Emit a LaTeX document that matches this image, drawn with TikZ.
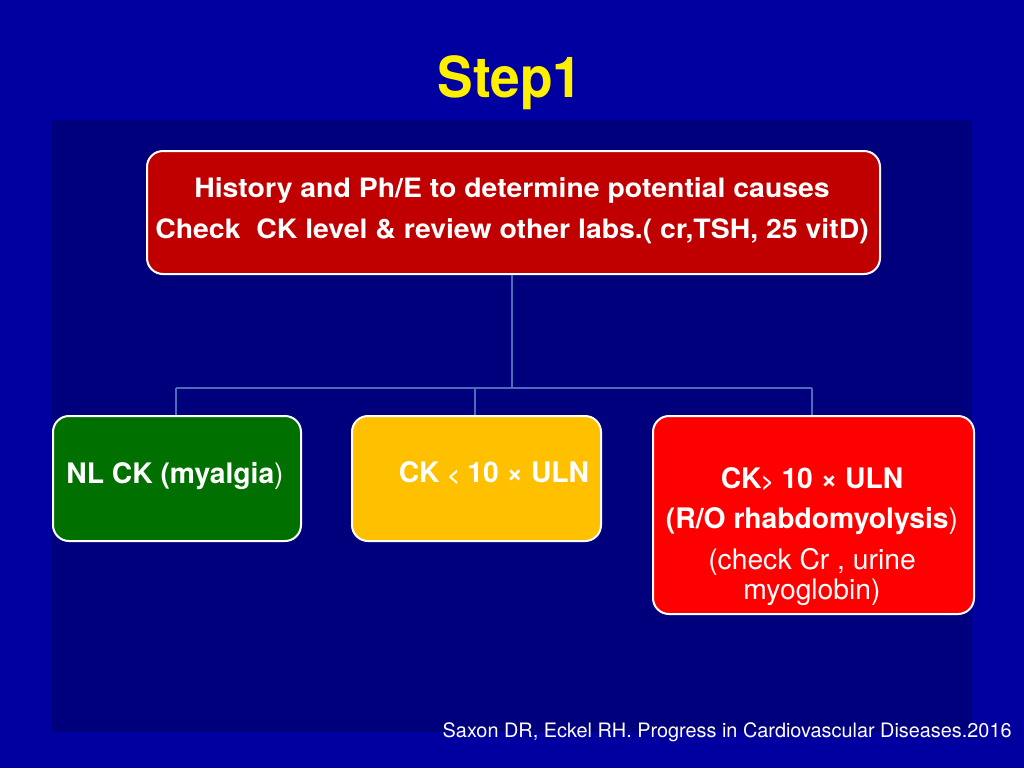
\documentclass[tikz,border=0pt]{standalone}
\usepackage{fontspec}
\setmainfont{TeX Gyre Heros}
\begin{document}
\begin{tikzpicture}[x=0.75pt,y=-0.75pt,
  box/.style={draw=white,line width=1.5pt,rounded corners=12pt,anchor=north west,inner sep=0pt},
  conn/.style={draw=linec,line width=1.5pt},
  tt/.style={font=\fontsize{20}{24}\selectfont\bfseries,text=white,align=center},
  bt/.style={font=\fontsize{21.2}{25}\selectfont\bfseries,text=white,align=center}]
\definecolor{bgout}{RGB}{0,0,160}
\definecolor{bgin}{RGB}{0,0,124}
\definecolor{linec}{RGB}{74,108,186}
\definecolor{topred}{RGB}{192,0,0}
\definecolor{grn}{RGB}{0,112,0}
\definecolor{ylw}{RGB}{255,192,0}
\definecolor{rd}{RGB}{255,0,0}
\definecolor{ttl}{RGB}{255,240,0}
\useasboundingbox (0,0) rectangle (1024,768);
\fill[bgout] (0,0) rectangle (1024,768);
\fill[bgin] (52,120) rectangle (972,732);
\node[font=\fontsize{40}{50}\selectfont\bfseries,text=ttl,anchor=base] (title) at (510,97) {\scalebox{1.0}[1.06]{Step1}};
% boxes
\node[box,fill=topred,minimum width=733*0.75pt,minimum height=123*0.75pt] (top) at (146,150) {};
\node[box,fill=grn,minimum width=248*0.75pt,minimum height=125*0.75pt] (nl) at (52,415) {};
\node[box,fill=ylw,minimum width=249*0.75pt,minimum height=125*0.75pt] (lo) at (351,415) {};
\node[box,fill=rd,minimum width=321*0.75pt,minimum height=198*0.75pt] (hi) at (652,415) {};
% texts
\node[tt] (t1) at (512,190) {\scalebox{1.065}[1]{History and Ph/E to determine potential causes}};
\node[tt] (t2) at (512,231) {\scalebox{1.065}[1]{Check\ \ CK level \& review other labs.( cr,TSH, 25 vitD)}};
\node[bt] (tnl) at (175,476) {NL CK (myalgia\textmd{)}};
\node[bt] (tlo) at (494,473) {CK {\fontsize{15.5}{18}\selectfont<} 10 × ULN};
\node[bt] (th1) at (812,479) {CK{\fontsize{15.5}{18}\selectfont>} 10 × ULN};
\node[bt] (th2) at (812,521) {(R/O rhabdomyolysis\textmd{)}};
\node[font=\fontsize{21.2}{22.5}\selectfont,text=white,align=center] (th3) at (812,577) {(check Cr , urine\\myoglobin)};
% connectors
\coordinate (j) at (512,388);
\coordinate (jl) at (176,388);
\coordinate (jm) at (475,388);
\coordinate (jr) at (812,388);
\draw[conn] (top.south -| j) -- (j);
\draw[conn] (jl) -- (jr);
\draw[conn] (jl) -- (jl |- nl.north);
\draw[conn] (jm) -- (jm |- lo.north);
\draw[conn] (jr) -- (jr |- hi.north);
\node[font=\fontsize{14.9}{16}\selectfont,text=white,anchor=base west] (cite) at (438,737) {Saxon DR, Eckel RH. Progress in Cardiovascular Diseases.2016};
\end{tikzpicture}
\end{document}
